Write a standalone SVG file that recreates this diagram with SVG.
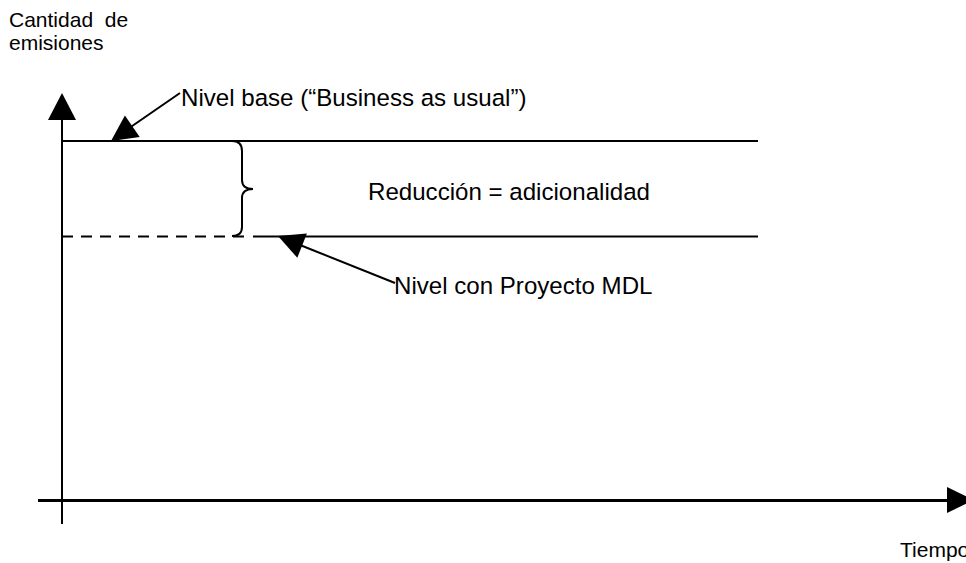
<svg xmlns="http://www.w3.org/2000/svg" width="966" height="563" viewBox="0 0 966 563">
<style>
text{font-family:"Liberation Sans",Arial,sans-serif;fill:#000;white-space:pre}
.axl{font-size:21px}
.lbl{font-size:24.1px}
.ln{stroke:#000;stroke-width:2;fill:none}
.head{fill:#000;stroke:none}
</style>
<rect width="966" height="563" fill="#fff"/>
<g id="axes">
<line class="ln" x1="62" y1="524" x2="62" y2="119"/>
<polygon class="head" points="62,93 76,120 48,120"/>
<line x1="38" y1="500.5" x2="948" y2="500.5" stroke="#000" stroke-width="2.8"/>
<polygon class="head" points="974,500 947,487 947,513"/>
</g>
<g id="levels">
<line class="ln" x1="62" y1="141" x2="758" y2="141"/>
<line class="ln" x1="62" y1="236.5" x2="246" y2="236.5" stroke-dasharray="11 8" stroke-width="2.4"/>
<line class="ln" x1="253" y1="236.5" x2="758" y2="236.5"/>
<path class="ln" d="M232,141 Q242,141 242,151 L242,180 Q242,189 253,189 Q242,189 242,198 L242,227 Q242,236 232,236"/>
</g>
<g id="connectors">
<line class="ln" x1="180" y1="93" x2="130" y2="127.5"/>
<polygon class="head" points="111,141 139.7,136.9 124.9,115.5"/>
<line class="ln" x1="395" y1="283" x2="300" y2="245"/>
<polygon class="head" points="278,236 306.9,233.6 297.3,257.8"/>
</g>
<g id="label-y"><text class="axl" x="9" y="27" xml:space="preserve">Cantidad  de</text><text class="axl" x="9" y="50">emisiones</text></g>
<g id="label-x"><text class="axl" x="900" y="557">Tiempo</text></g>
<g id="label-base"><text class="lbl" x="181" y="106">Nivel base (“Business as usual”)</text></g>
<g id="label-reduccion"><text class="lbl" x="368" y="200">Reducción = adicionalidad</text></g>
<g id="label-proyecto"><text class="lbl" x="394" y="294">Nivel con Proyecto MDL</text></g>
</svg>
